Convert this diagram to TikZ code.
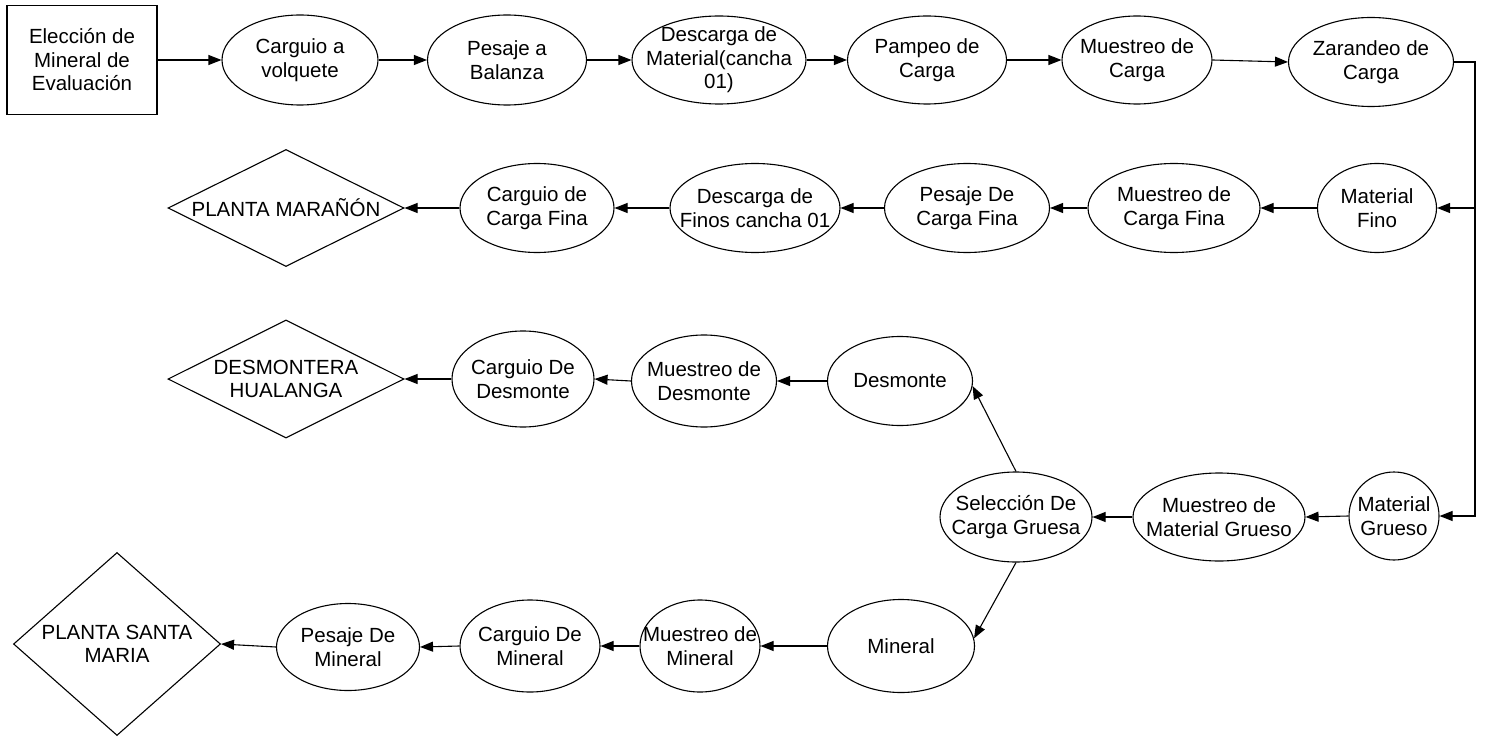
\documentclass[tikz,border=0pt]{standalone}
\usepackage{fontspec}
\setmainfont{Liberation Sans}
\usetikzlibrary{shapes.geometric,arrows.meta}
\begin{document}
\begin{tikzpicture}[x=1pt,y=-1pt,
  every node/.style={font=\fontsize{20.5}{23.5}\selectfont},
  ell/.style={draw, ellipse, inner sep=0pt, line width=1.1pt},
  dia/.style={draw, diamond, inner sep=0pt, line width=1.1pt},
  box/.style={draw, rectangle, inner sep=0pt, line width=1.1pt},
  txt/.style={align=center, inner sep=0pt, draw=none},
  arr/.style={-{Triangle[length=13pt,width=10pt]}, line width=1.1pt},
]
\useasboundingbox (0,0) rectangle (1485,738);

% Row 1
\node[box, minimum width=150pt, minimum height=109pt, label={[txt]center:Elección de\\Mineral de\\Evaluación}] (e0) at (82,60) {};
\node[ell, minimum width=156pt, minimum height=90pt, label={[txt]center:Carguio a\\volquete}] (c1) at (300,60) {};
\node[ell, minimum width=159pt, minimum height=90pt, label={[txt]center:Pesaje a\\Balanza}] (c2) at (507,60) {};
\node[ell, minimum width=174pt, minimum height=88pt, label={[txt]center:Descarga de\\Material(cancha\\01)}] (c3) at (719,60) {};
\node[ell, minimum width=159pt, minimum height=88pt, label={[txt]center:Pampeo de\\Carga}] (c4) at (927,60) {};
\node[ell, minimum width=150pt, minimum height=88pt, label={[txt]center:Muestreo de\\Carga}] (c5) at (1137,60) {};
\node[ell, minimum width=165pt, minimum height=89pt, label={[txt]center:Zarandeo de\\Carga}] (c6) at (1371,62) {};

% Row 2
\node[ell, minimum width=119pt, minimum height=89pt, label={[txt]center:Material\\Fino}] (mf) at (1377,208) {};
\node[ell, minimum width=172pt, minimum height=89pt, label={[txt]center:Muestreo de\\Carga Fina}] (mcf) at (1174,208) {};
\node[ell, minimum width=165pt, minimum height=89pt, label={[txt]center:Pesaje De\\Carga Fina}] (pcf) at (967,208) {};
\node[ell, minimum width=170pt, minimum height=89pt, label={[txt]center:Descarga de\\Finos cancha 01}] (dfc) at (755,208) {};
\node[ell, minimum width=154pt, minimum height=89pt, label={[txt]center:Carguio de\\Carga Fina}] (ccf) at (537,208) {};
\node[dia, minimum width=236pt, minimum height=117pt, label={[txt]center:PLANTA MARAÑÓN}] (pm) at (286,208) {};

% Row 3
\node[ell, minimum width=145pt, minimum height=89pt, label={[txt]center:Desmonte}] (des) at (900,381) {};
\node[ell, minimum width=145pt, minimum height=92pt, label={[txt]center:Muestreo de\\Desmonte}] (mdes) at (704,381) {};
\node[ell, minimum width=142pt, minimum height=96pt, label={[txt]center:Carguio De\\Desmonte}] (cdes) at (523,379) {};
\node[dia, minimum width=236pt, minimum height=118pt, label={[txt]center:DESMONTERA\\HUALANGA}] (dh) at (286,379) {};

% Row 4
\node[ell, minimum width=90pt, minimum height=88pt, label={[txt]center:Material\\Grueso}] (mg) at (1394,516) {};
\node[ell, minimum width=172pt, minimum height=88pt, label={[txt]center:Muestreo de\\Material Grueso}] (mmg) at (1219,517) {};
\node[ell, minimum width=152pt, minimum height=90pt, label={[txt]center:Selección De\\Carga Gruesa}] (scg) at (1016,517) {};

% Row 5
\node[ell, minimum width=147pt, minimum height=93pt, label={[txt]center:Mineral}] (mn) at (901,646) {};
\node[ell, minimum width=120pt, minimum height=92pt, label={[txt]center:Muestreo de\\Mineral}] (mmn) at (700,646) {};
\node[ell, minimum width=140pt, minimum height=92pt, label={[txt]center:Carguio De\\Mineral}] (cmn) at (530,646) {};
\node[ell, minimum width=143pt, minimum height=87pt, label={[txt]center:Pesaje De\\Mineral}] (pmn) at (348,647) {};
\node[dia, minimum width=207pt, minimum height=183pt, label={[txt]center:PLANTA SANTA\\MARIA}] (psm) at (117,644) {};

\coordinate (rail) at (1475,0);

% Connectors row 1
\draw[arr] (e0.east) -- (c1.west);
\draw[arr] (c1.east) -- (c2.west);
\draw[arr] (c2.east) -- (c3.west);
\draw[arr] (c3.east) -- (c4.west);
\draw[arr] (c4.east) -- (c5.west);
\draw[arr] (c5.east) -- (c6.west);
% rail
\draw[arr] (c6.east) -| (rail |- mg.east) -- (mg.east);
\draw[arr] (rail |- mf.east) -- (mf.east);
% row 2
\draw[arr] (mf.west) -- (mcf.east);
\draw[arr] (mcf.west) -- (pcf.east);
\draw[arr] (pcf.west) -- (dfc.east);
\draw[arr] (dfc.west) -- (ccf.east);
\draw[arr] (ccf.west) -- (pm.east);
% row 4
\draw[arr] (mg.west) -- (mmg.east);
\draw[arr] (mmg.west) -- (scg.east);
\draw[arr] (scg.north) -- (des.-4);
\draw[arr] (scg.south) -- (mn.6);
% row 3
\draw[arr] (des.west) -- (mdes.east);
\draw[arr] (mdes.west) -- (cdes.east);
\draw[arr] (cdes.west) -- (dh.east);
% row 5
\draw[arr] (mn.west) -- (mmn.east);
\draw[arr] (mmn.west) -- (cmn.east);
\draw[arr] (cmn.west) -- (pmn.east);
\draw[arr] (pmn.west) -- (psm.east);
\end{tikzpicture}
\end{document}
